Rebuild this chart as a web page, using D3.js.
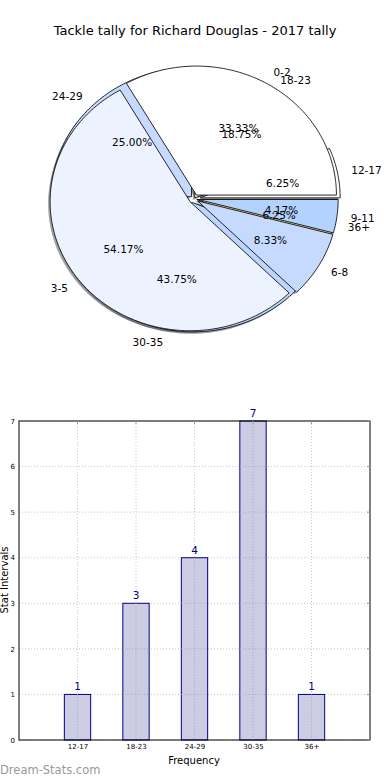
<!DOCTYPE html>
<html>
<head>
<meta charset="utf-8">
<script src="https://cdn.jsdelivr.net/npm/d3@7"></script>
<style>
html,body{margin:0;padding:0;background:#fff;}
svg{display:block;font-family:"DejaVu Sans",sans-serif;}
</style>
</head>
<body>
<svg id="chart" width="390" height="780"></svg>
<script>
// ---- data ----
const chartTitle = "Tackle tally for Richard Douglas - 2017 tally";
const pie1Labels = ["0-2", "3-5", "6-8", "9-11"];
const pie1Values = [8, 13, 2, 1];
const pie1Colors = ["#ffffff", "#edf2ff", "#c6daff", "#b4d2ff"];
const pie1Explode = [0.035, 0.035, 0.03, 0.03];

const pie2Labels = ["12-17", "18-23", "24-29", "30-35", "36+"];
const pie2Values = [1, 3, 4, 7, 1];
const pie2Colors = ["#ffffff", "#ffffff", "#c6daff", "#bcd5ff", "#e6e27a"];
const pie2Explode = [0.045, 0.01, 0.025, 0.03, 0.02];

const barCategories = ["12-17", "18-23", "24-29", "30-35", "36+"];
const barValues = [1, 3, 4, 7, 1];
const yTickValues = [0, 1, 2, 3, 4, 5, 6, 7];

(function () {
const svg = d3.select("#chart");

svg.append("text").attr("x", 195).attr("y", 35).attr("text-anchor", "middle")
  .attr("font-size", 13).attr("fill", "#000").text(chartTitle);

// ---- pies ----
const cx = 194, cy = 199, rx = 140, ry = 129;
const pieGen = d3.pie().sort(null).startAngle(Math.PI / 2).endAngle(Math.PI / 2 - 2 * Math.PI);

function wedgePath(ox, oy, a0, a1) {
  const n = Math.max(2, Math.ceil(Math.abs(a1 - a0) / 0.015));
  const pts = [[ox, oy]];
  for (let i = 0; i <= n; i++) {
    const a = a0 + (a1 - a0) * i / n;
    pts.push([ox + rx * Math.sin(a), oy - ry * Math.cos(a)]);
  }
  return d3.line()(pts) + "Z";
}

function layoutPie(values, explode) {
  const arcs = pieGen(values);
  arcs.forEach((d, i) => {
    const m = (d.startAngle + d.endAngle) / 2;
    d.mid = m;
    d.e = explode[i];
    d.ox = cx + explode[i] * rx * Math.sin(m);
    d.oy = cy - explode[i] * ry * Math.cos(m);
  });
  return arcs;
}
const arcs2 = layoutPie(pie2Values, pie2Explode);
const arcs1 = layoutPie(pie1Values, pie1Explode);

const gShadow = svg.append("g");
function drawShadows(arcs, colors) {
  arcs.forEach((d, i) => {
    gShadow.append("path")
      .attr("d", wedgePath(d.ox - 2, d.oy + 2, d.startAngle, d.endAngle))
      .attr("fill", d3.color(colors[i]).darker(3.5))
      .attr("fill-opacity", 0.5).attr("stroke", "none");
  });
}
drawShadows(arcs2, pie2Colors);
drawShadows(arcs1, pie1Colors);

function drawWedges(arcs, colors) {
  const g = svg.append("g");
  arcs.forEach((d, i) => {
    g.append("path")
      .attr("d", wedgePath(d.ox, d.oy, d.startAngle, d.endAngle))
      .attr("fill", colors[i])
      .attr("stroke", "#111").attr("stroke-width", 0.9).attr("stroke-linejoin", "miter");
  });
}
drawWedges(arcs2, pie2Colors);
drawWedges(arcs1, pie1Colors);

function drawLabels(arcs, labels, values) {
  const total = d3.sum(values);
  const gl = svg.append("g").attr("font-size", 10.5).attr("fill", "#000");
  arcs.forEach((d, i) => {
    const s = Math.sin(d.mid), c = Math.cos(d.mid);
    const lx = cx + (d.e + 1.1) * rx * s;
    const ly = cy - (d.e + 1.1) * ry * c;
    gl.append("text").attr("x", lx).attr("y", ly)
      .attr("text-anchor", s > 0 ? "start" : "end")
      .attr("dominant-baseline", "central").text(labels[i]);
    const px = cx + (d.e + 0.6) * rx * s;
    const py = cy - (d.e + 0.6) * ry * c;
    gl.append("text").attr("x", px).attr("y", py)
      .attr("text-anchor", "middle").attr("dominant-baseline", "central")
      .text(d3.format(".2f")(values[i] / total * 100) + "%");
  });
}
drawLabels(arcs1, pie1Labels, pie1Values);
drawLabels(arcs2, pie2Labels, pie2Values);

// ---- bar chart ----
const pL = 19, pR = 370, pT = 421, pB = 740;
const x = d3.scaleLinear().domain([0, 6]).range([pL, pR]);
const y = d3.scaleLinear().domain([0, 7]).range([pB, pT]);
const barW = 0.45;
const g = svg.append("g");

g.selectAll("line.hg").data(yTickValues).join("line").attr("class", "hg")
  .attr("x1", pL).attr("x2", pR).attr("y1", d => y(d)).attr("y2", d => y(d))
  .attr("stroke", "#c8c8c8").attr("stroke-width", 1).attr("stroke-dasharray", "1,2");
g.selectAll("line.vg").data(barCategories).join("line").attr("class", "vg")
  .attr("x1", (d, i) => x(i + 1)).attr("x2", (d, i) => x(i + 1)).attr("y1", pT).attr("y2", pB)
  .attr("stroke", "#c8c8c8").attr("stroke-width", 1).attr("stroke-dasharray", "1,2");

g.selectAll("rect.bar").data(barValues).join("rect").attr("class", "bar")
  .attr("x", (d, i) => x(i + 1 - barW / 2)).attr("width", x(barW) - x(0))
  .attr("y", d => y(d)).attr("height", d => y(0) - y(d))
  .attr("fill", "#ccccE5")
  .attr("stroke", "#000080").attr("stroke-width", 1);

g.selectAll("line.vg2").data(barValues).join("line").attr("class", "vg2")
  .attr("x1", (d, i) => x(i + 1)).attr("x2", (d, i) => x(i + 1)).attr("y1", d => y(d)).attr("y2", pB)
  .attr("stroke", "#a8a8b8").attr("stroke-width", 1).attr("stroke-dasharray", "1,2");
barValues.forEach((v, i) => {
  yTickValues.filter(t => t > 0 && t < v).forEach(t => {
    g.append("line").attr("x1", x(i + 1 - barW / 2)).attr("x2", x(i + 1 + barW / 2))
      .attr("y1", y(t)).attr("y2", y(t))
      .attr("stroke", "#a8a8b8").attr("stroke-width", 1).attr("stroke-dasharray", "1,2");
  });
});

g.selectAll("text.val").data(barValues).join("text").attr("class", "val")
  .attr("x", (d, i) => x(i + 1)).attr("y", d => y(d) - 4)
  .attr("text-anchor", "middle").attr("font-size", 10.5).attr("fill", "#000080").text(d => d);

g.append("rect").attr("x", pL).attr("y", pT).attr("width", pR - pL).attr("height", pB - pT)
  .attr("fill", "none").attr("stroke", "#000").attr("stroke-width", 1);

const yAxis = d3.axisLeft(y).tickValues(yTickValues).tickSize(0).tickPadding(4).tickFormat(d3.format("d"));
const ya = svg.append("g").attr("transform", `translate(${pL},0)`).call(yAxis);
ya.select(".domain").remove();
ya.selectAll("text").attr("font-size", 7).attr("fill", "#000").attr("font-family", "DejaVu Sans");
svg.append("g").selectAll("line").data(yTickValues).join("line")
  .attr("x1", pR - 3).attr("x2", pR).attr("y1", d => y(d)).attr("y2", d => y(d))
  .attr("stroke", "#999").attr("stroke-width", 1);
svg.append("g").selectAll("line").data(barCategories).join("line")
  .attr("x1", (d, i) => x(i + 1)).attr("x2", (d, i) => x(i + 1)).attr("y1", pT).attr("y2", pT + 3)
  .attr("stroke", "#999").attr("stroke-width", 1);

const xAxis = d3.axisBottom(x).tickValues(barCategories.map((d, i) => i + 1)).tickSize(0).tickPadding(4)
  .tickFormat((d) => barCategories[d - 1]);
const xa = svg.append("g").attr("transform", `translate(0,${pB})`).call(xAxis);
xa.select(".domain").remove();
xa.selectAll("text").attr("font-size", 7).attr("fill", "#000").attr("font-family", "DejaVu Sans");

svg.append("text").attr("x", 194).attr("y", 764).attr("text-anchor", "middle")
  .attr("font-size", 10).attr("fill", "#000").text("Frequency");
svg.append("text").attr("transform", "translate(8,580) rotate(-90)").attr("text-anchor", "middle")
  .attr("font-size", 10).attr("fill", "#000").text("Stat Intervals");

svg.append("text").attr("x", 0).attr("y", 774).attr("font-size", 11.5)
  .attr("fill", "#999").text("Dream-Stats.com");
})();
</script>
</body>
</html>
